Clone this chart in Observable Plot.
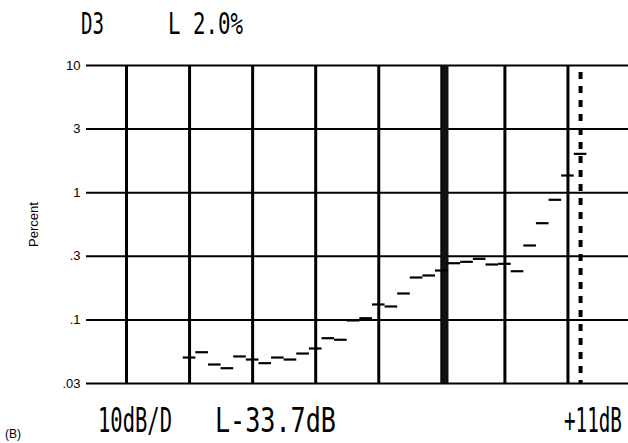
<!DOCTYPE html>
<html>
<head>
<meta charset="utf-8">
<script src="https://cdn.jsdelivr.net/npm/d3@7"></script>
<script src="https://cdn.jsdelivr.net/npm/@observablehq/plot@0.6"></script>
<style>
  html, body { margin: 0; padding: 0; background: #fff; }
  #chart { width: 628px; height: 443px; position: relative; }
</style>
</head>
<body>
<div id="chart"></div>
<script>
// ---- data ----
const yTickValues = [10, 3.1623, 1, 0.31623, 0.1, 0.031623];
const yTickLabels = ["10", "3", "1", ".3", ".1", ".03"];
const xDivisions = [0, 1, 2, 3, 4, 5, 6, 7];
const cursorSolid = [5.05];
const cursorDashed = [7.2];
// third-harmonic distortion (percent), one value per sweep step
const stepValues = [0.0506, 0.0557, 0.0446, 0.0417, 0.0516, 0.0488, 0.0457, 0.0506,
  0.0488, 0.0544, 0.0596, 0.0718, 0.0698, 0.099, 0.1031, 0.1322, 0.1275, 0.1613,
  0.2154, 0.2234, 0.2445, 0.279, 0.2862, 0.3022, 0.2726, 0.276, 0.2414, 0.3846,
  0.5757, 0.8794, 1.365, 2.02];
const stepStart = 0.9;   // first step starts at 0.9 division
const stepWidth = 0.2;   // five steps per division
const headerTexts = ["D3", "L 2.0%"];
const footerTexts = ["10dB/D", "L-33.7dB", "+11dB"];
const panelLabel = "(B)";
const yLabel = "Percent";

const steps = stepValues.map((v, k) => ({k, v}));
const labelOf = new Map(yTickValues.map((v, i) => [v, yTickLabels[i]]));

const plot = Plot.plot({
  width: 628,
  height: 443,
  marginTop: 65,
  marginBottom: 60,
  marginLeft: 126,
  marginRight: 0,
  style: {fontFamily: "'Liberation Sans', Arial, sans-serif", fontSize: "13px", background: "#fff", color: "#000"},
  x: {type: "linear", domain: [0, 7.96], axis: null},
  y: {type: "log", domain: [0.031623, 10]},
  marks: [
    Plot.gridY(yTickValues, {stroke: "#000", strokeOpacity: 1, strokeWidth: 2}),
    Plot.axisY(yTickValues, {
      tickFormat: d => labelOf.get(d),
      tickSize: 40, tickPadding: 6, strokeWidth: 2,
      fontSize: 13,
      label: yLabel, labelAnchor: "center", labelArrow: "none", labelOffset: 98
    }),
    Plot.ruleX(xDivisions, {stroke: "#000", strokeWidth: 3}),
    Plot.ruleX(cursorSolid, {stroke: "#111", strokeWidth: 7}),
    Plot.ruleX(cursorDashed, {stroke: "#000", strokeWidth: 4, strokeDasharray: "7,7", strokeDashoffset: 7}),
    Plot.ruleY(steps, {
      x1: d => stepStart + stepWidth * d.k,
      x2: d => stepStart + stepWidth * (d.k + 1),
      y: "v", stroke: "#000", strokeWidth: 2.2
    })
  ]
});

document.getElementById("chart").appendChild(plot);

// instrument readout texts (condensed monospace: small font stretched vertically)
const svg = d3.select(plot);
const MONO_ADV = 0.602;
const layout = [
  {text: headerTexts[0], x: 81, y: 34, w: 23, size: 31},
  {text: headerTexts[1], x: 168, y: 34, w: 75, size: 31},
  {text: footerTexts[0], x: 98, y: 432, w: 74, size: 34},
  {text: footerTexts[1], x: 215, y: 432, w: 121, size: 34},
  {text: footerTexts[2], x: 564, y: 432, w: 58, size: 34}
];
for (const t of layout) {
  const fs = t.w / (t.text.length * MONO_ADV);
  svg.append("text")
    .attr("transform", `translate(${t.x},${t.y}) scale(1,${(t.size / fs).toFixed(3)})`)
    .attr("text-anchor", "start")
    .attr("font-family", "'DejaVu Sans Mono', monospace")
    .attr("font-size", fs.toFixed(2))
    .attr("fill", "#000")
    .text(t.text);
}
svg.append("text")
  .attr("x", 5).attr("y", 438)
  .attr("text-anchor", "start")
  .attr("font-family", "'Liberation Sans', Arial, sans-serif")
  .attr("font-size", 12)
  .attr("fill", "#000")
  .text(panelLabel);
</script>
</body>
</html>
